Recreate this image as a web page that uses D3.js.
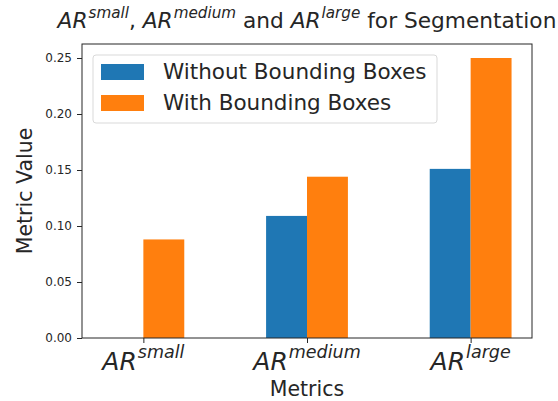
<!DOCTYPE html>
<html>
<head>
<meta charset="utf-8">
<script src="https://cdn.jsdelivr.net/npm/d3@7"></script>
<style>
    body { margin: 0; background: #fff; }
    text { font-family: "DejaVu Sans", sans-serif; fill: #262626; }
</style>
</head>
<body>
<div id="chart"></div>
<script>
// chart data
var categories = ["small", "medium", "large"];
var seriesNames = ["Without Bounding Boxes", "With Bounding Boxes"];
var withoutBoxes = [0, 0.109, 0.151];
var withBoxes = [0.088, 0.144, 0.25];
var yTicks = [0, 0.05, 0.10, 0.15, 0.20, 0.25];
var colors = ["#1f77b4", "#ff7f0e"];

var W = 558, H = 401;
var margin = { top: 44, right: 26, bottom: 63, left: 82 },
    width = W - margin.left - margin.right,
    height = H - margin.top - margin.bottom;

var svg = d3.select("#chart")
    .append("svg")
    .attr("width", W)
    .attr("height", H);

var g = svg.append("g")
    .attr("transform", "translate(" + margin.left + "," + margin.top + ")");

// x is a linear scale over category index, like matplotlib
var x = d3.scaleLinear().domain([-0.375, 2.375]).range([0, width]);
var y = d3.scaleLinear().domain([0, 0.2625]).range([height, 0]);
var barW = x(0.25) - x(0);

// bars
var series = [withoutBoxes, withBoxes];
series.forEach(function (vals, s) {
    g.selectAll(".bar" + s)
        .data(vals)
        .enter()
        .append("rect")
        .attr("class", "bar" + s)
        .attr("x", function (d, i) { return x(i) + (s === 0 ? -barW : 0); })
        .attr("width", barW)
        .attr("y", function (d) { return y(d); })
        .attr("height", function (d) { return height - y(d); })
        .attr("fill", colors[s]);
});

// y axis
var yAxis = g.append("g")
    .call(d3.axisLeft(y).tickValues(yTicks).tickFormat(d3.format(".2f")).tickSize(5).tickPadding(5));
yAxis.select(".domain").remove();
yAxis.selectAll("line").attr("stroke", "#262626");
yAxis.selectAll("text").style("font-size", "12px").style("font-family", "DejaVu Sans").attr("fill", "#333");

// x axis ticks
var xAxis = g.append("g")
    .attr("transform", "translate(0," + height + ")")
    .call(d3.axisBottom(x).tickValues([0, 1, 2]).tickFormat("").tickSize(5));
xAxis.select(".domain").remove();
xAxis.selectAll("line").attr("stroke", "#262626");

// x tick labels with superscripts
categories.forEach(function (c, i) {
    var t = g.append("text")
        .attr("x", x(i))
        .attr("y", height + 32)
        .attr("text-anchor", "middle")
        .style("font-style", "italic")
        .style("font-size", "25px");
    t.append("tspan").text("AR");
    t.append("tspan").attr("dy", -12).style("font-size", "17.5px").attr("dx", 1).text(c);
});

// frame
g.append("rect")
    .attr("width", width)
    .attr("height", height)
    .attr("fill", "none")
    .attr("stroke", "#262626")
    .attr("stroke-width", 1);

// axis labels
svg.append("text")
    .attr("x", margin.left + width / 2)
    .attr("y", 396)
    .attr("text-anchor", "middle")
    .style("font-size", "20.5px")
    .text("Metrics");

svg.append("text")
    .attr("transform", "rotate(-90)")
    .attr("x", -(margin.top + height / 2))
    .attr("y", 32)
    .attr("text-anchor", "middle")
    .style("font-size", "20.5px")
    .text("Metric Value");

// title
var title = svg.append("text")
    .attr("x", 307)
    .attr("y", 28)
    .attr("text-anchor", "middle")
    .style("font-size", "21.7px")
    .attr("fill", "#000");
[["AR", "small", ", "], ["AR", "medium", " and "], ["AR", "large", " for Segmentation"]].forEach(function (p) {
    title.append("tspan").style("font-style", "italic").text(p[0]);
    title.append("tspan").style("font-style", "italic").style("font-size", "15.2px").attr("dy", -10).attr("dx", 1).text(p[1]);
    title.append("tspan").attr("dy", 10).text(p[2]);
});

// legend
var legend = svg.append("g").attr("transform", "translate(93,55)");
legend.append("rect")
    .attr("width", 344)
    .attr("height", 68)
    .attr("rx", 3)
    .attr("fill", "#fff")
    .attr("fill-opacity", 0.8)
    .attr("stroke", "#d9d9d9");
seriesNames.forEach(function (name, i) {
    legend.append("rect")
        .attr("x", 8)
        .attr("y", 9 + i * 31)
        .attr("width", 43)
        .attr("height", 16)
        .attr("fill", colors[i]);
    legend.append("text")
        .attr("x", 70)
        .attr("y", 23.5 + i * 31)
        .style("font-size", "21.5px")
        .text(name);
});
</script>
</body>
</html>
